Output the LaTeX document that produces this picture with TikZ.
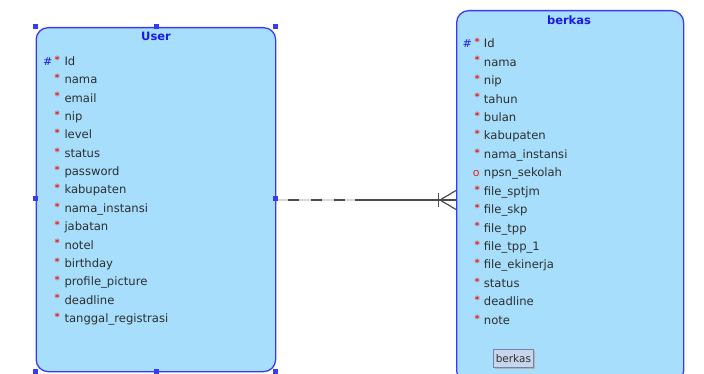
\documentclass[tikz,border=0pt]{standalone}
\usepackage{fontspec}
\setmainfont{DejaVu Sans}
\definecolor{entfill}{HTML}{A6DEFC}
\definecolor{entdraw}{HTML}{3A3AF5}
\definecolor{enttitle}{HTML}{1A1AE6}
\definecolor{attrtext}{HTML}{2E2E2E}
\definecolor{mandred}{HTML}{E82020}
\definecolor{linkdark}{HTML}{4A4A4A}
\definecolor{linklight}{HTML}{D8D8D8}
\definecolor{tagfill}{HTML}{C8D6EC}
\definecolor{tagdraw}{HTML}{7484A6}
\tikzset{
  entity/.style={draw=entdraw, line width=1.3pt, fill=entfill, rounded corners=12pt,
    rectangle, inner sep=0pt, anchor=north west},
  enttitlestyle/.style={font=\bfseries\fontsize{11.5}{14}\selectfont, text=enttitle, anchor=base, inner sep=0pt},
  attr/.style={font=\fontsize{11.6}{13}\selectfont, text=attrtext, anchor=base west, inner sep=0pt},
  mand/.style={font=\bfseries\fontsize{10}{11}\selectfont, text=mandred, anchor=base west, inner sep=0pt},
  optmark/.style={font=\fontsize{11}{13}\selectfont, text=mandred, anchor=base west, inner sep=0pt},
  keymark/.style={font=\fontsize{11}{13}\selectfont, text=enttitle, anchor=base west, inner sep=0pt},
  handle/.style={fill=entdraw, draw=none, minimum size=5pt, inner sep=0pt, rectangle},
  tag/.style={draw=tagdraw, fill=tagfill, line width=0.8pt, inner sep=0pt,
    minimum width=40.6pt, minimum height=18pt, font=\fontsize{10.5}{12}\selectfont, text=attrtext}
}
\begin{document}
\begin{tikzpicture}[x=1pt,y=-1pt]
\useasboundingbox (0,0) rectangle (704,374);
\clip (0,0) rectangle (704,374);

% entity boxes
\node[entity, minimum width=239.5pt, minimum height=344pt] (user) at (35.5,27) {};
\node[entity, minimum width=227pt, minimum height=372pt] (berkas) at (456,10) {};

% titles
\node[enttitlestyle] (usertitle) at (156,41) {User};
\node[enttitlestyle] (berkastitle) at (569,24.3) {berkas};

% attributes of User
\node[keymark] (userkey) at (43,65.5) {\#};
\foreach \nm [count=\i] in {Id,nama,email,nip,level,status,password,kabupaten,nama\_instansi,jabatan,notel,birthday,profile\_picture,deadline,tanggal\_registrasi}{
  \node[mand] (um\i) at (54.3,{65.5+(\i-1)*18.35-2.2}) {*};
  \node[attr] (ua\i) at (64.3,{65.5+(\i-1)*18.35}) {\nm};
}

% attributes of berkas
\node[keymark] (berkaskey) at (462.5,47.7) {\#};
\foreach \nm [count=\i] in {Id,nama,nip,tahun,bulan,kabupaten,nama\_instansi}{
  \node[mand] (bm\i) at (474.3,{47.7+(\i-1)*18.44-2.2}) {*};
  \node[attr] (ba\i) at (483.7,{47.7+(\i-1)*18.44}) {\nm};
}
\node[optmark] (bo8) at (472.6,{47.7+7*18.44}) {o};
\node[attr] (ba8) at (483.7,{47.7+7*18.44}) {npsn\_sekolah};
\foreach \nm [count=\j] in {file\_sptjm,file\_skp,file\_tpp,file\_tpp\_1,file\_ekinerja,status,deadline,note}{
  \pgfmathtruncatemacro{\i}{\j+8}
  \node[mand] (bm\i) at (474.3,{47.7+(\i-1)*18.44-2.2}) {*};
  \node[attr] (ba\i) at (483.7,{47.7+(\i-1)*18.44}) {\nm};
}

% name tag with shadow
\fill[gray!60] (494.5,350.5) rectangle (535,369);
\node[tag, anchor=north west] (tagname) at (492.7,349) {berkas};

% relationship: optional (dashed) side at User, many side at berkas
\coordinate (linkmid) at (355,200);
\coordinate (crowbar) at (438.5,200);
\coordinate (crowroot) at (440,200);
\draw[linklight, line width=1.4pt] (user.east |- linkmid) -- (linkmid);
\draw[linkdark, line width=1.4pt, dash pattern=on 11pt off 12pt, dash phase=-12pt] (user.east |- linkmid) -- (linkmid);
\draw[linkdark, line width=1.4pt] (linkmid) -- (berkas.west |- linkmid);
\draw[linkdark, line width=1.2pt] ([yshift=-7pt]crowbar) -- ([yshift=7pt]crowbar);
\draw[linkdark, line width=1.2pt] (berkas.west |- 0,190.5) -- (crowroot) -- (berkas.west |- 0,209.5);

% selection handles around User
\foreach \hx/\hy [count=\k] in {35.5/27,156/27,275/27,35.5/199,275/199,35.5/371.5,156/371.5,275/371.5}{
  \node[handle] (h\k) at (\hx,\hy) {};
}
\end{tikzpicture}
\end{document}
